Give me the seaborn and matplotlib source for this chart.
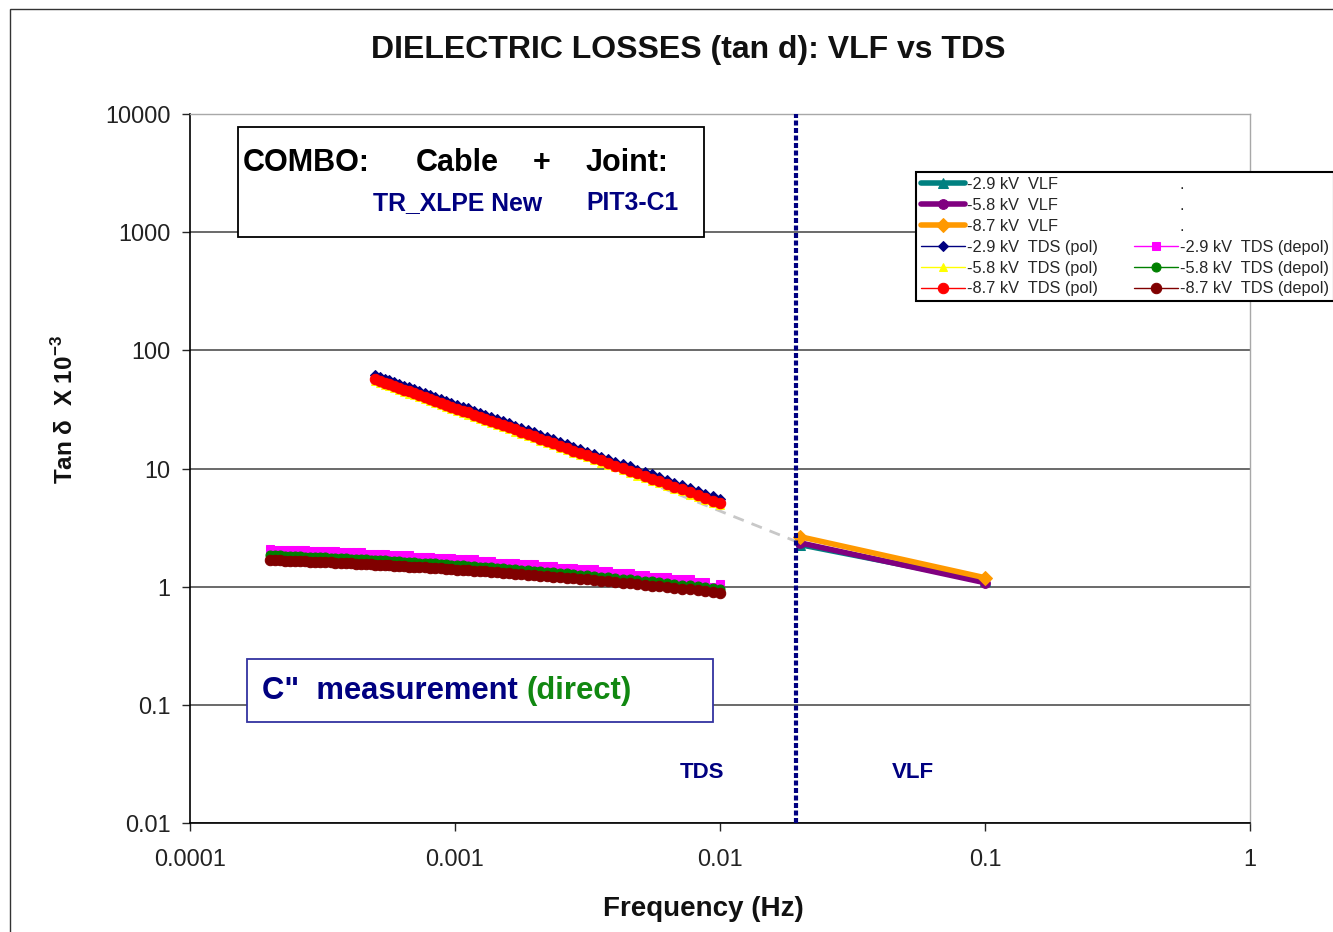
import matplotlib
matplotlib.use('Agg')
import matplotlib.pyplot as plt
import seaborn as sns
from matplotlib.lines import Line2D
from matplotlib.patches import Rectangle
from matplotlib.ticker import NullLocator

# TDS polarisation curves (Hz, tan d x 1e-3)
pol_freq = [0.000500, 0.000521, 0.000543, 0.000566, 0.000590, 0.000616, 0.000643, 0.000672,
            0.000702, 0.000734, 0.000768, 0.000804, 0.000842, 0.000882, 0.000925, 0.000970,
            0.00102, 0.00107, 0.00112, 0.00118, 0.00124, 0.00130, 0.00137, 0.00144,
            0.00152, 0.00160, 0.00169, 0.00178, 0.00188, 0.00199, 0.00210, 0.00222,
            0.00235, 0.00249, 0.00264, 0.00280, 0.00297, 0.00315, 0.00335, 0.00356,
            0.00379, 0.00403, 0.00429, 0.00457, 0.00487, 0.00519, 0.00553, 0.00590,
            0.00630, 0.00673, 0.00719, 0.00769, 0.00823, 0.00881, 0.00940, 0.01000]
pol_29 = [61.6, 59.6, 57.6, 55.7, 53.9, 52.1, 50.3, 48.5, 46.9, 45.1,
          43.5, 42.0, 40.5, 39.0, 37.5, 36.1, 34.7, 33.4, 32.2, 30.8,
          29.6, 28.5, 27.3, 26.2, 25.2, 24.1, 23.1, 22.1, 21.2, 20.2,
          19.3, 18.6, 17.7, 16.8, 16.1, 15.3, 14.7, 13.9, 13.3, 12.6,
          12.0, 11.4, 10.9, 10.4, 9.8, 9.3, 8.9, 8.4, 8.0, 7.6,
          7.2, 6.8, 6.4, 6.1, 5.8, 5.5]
pol_58 = [54.7, 53.0, 51.2, 49.5, 47.9, 46.3, 44.7, 43.1, 41.7, 40.1,
          38.7, 37.3, 36.0, 34.7, 33.3, 32.1, 30.8, 29.7, 28.6, 27.4,
          26.3, 25.3, 24.3, 23.3, 22.4, 21.4, 20.5, 19.7, 18.8, 18.0,
          17.2, 16.5, 15.7, 15.0, 14.3, 13.6, 13.1, 12.4, 11.8, 11.2,
          10.7, 10.2, 9.7, 9.2, 8.7, 8.3, 7.9, 7.5, 7.1, 6.7,
          6.4, 6.0, 5.7, 5.4, 5.1, 4.9]
pol_87 = [57.0, 55.2, 53.3, 51.6, 49.9, 48.2, 46.6, 44.9, 43.4, 41.8,
          40.3, 38.9, 37.5, 36.1, 34.7, 33.4, 32.1, 30.9, 29.8, 28.5,
          27.4, 26.4, 25.3, 24.3, 23.3, 22.3, 21.4, 20.5, 19.6, 18.7,
          17.9, 17.2, 16.4, 15.6, 14.9, 14.2, 13.6, 12.9, 12.3, 11.7,
          11.1, 10.6, 10.1, 9.6, 9.1, 8.65, 8.22, 7.80, 7.40, 7.02,
          6.65, 6.30, 5.96, 5.65, 5.36, 5.10]

# TDS depolarisation curves
depol_freq_early = [0.000200, 0.000209, 0.000218, 0.000228, 0.000238, 0.000249, 0.000260,
                    0.000272, 0.000284, 0.000297, 0.000310, 0.000324, 0.000339, 0.000354,
                    0.000370, 0.000387, 0.000405, 0.000423, 0.000442, 0.000462, 0.000483]
depol_freq = depol_freq_early + pol_freq
depol_29 = [2.10, 2.05, 2.05, 2.05, 2.05, 2.05, 2.05, 2.05, 2.00, 2.00,
            2.00, 2.00, 2.00, 2.00, 1.95, 1.95, 1.95, 1.95, 1.95, 1.90,
            1.90, 1.90, 1.90, 1.90, 1.85, 1.85, 1.85, 1.85, 1.85, 1.80,
            1.80, 1.80, 1.80, 1.75, 1.75, 1.75, 1.75, 1.70, 1.70, 1.70,
            1.70, 1.65, 1.65, 1.65, 1.60, 1.60, 1.60, 1.60, 1.55, 1.55,
            1.55, 1.50, 1.50, 1.50, 1.45, 1.45, 1.45, 1.40, 1.40, 1.40,
            1.35, 1.35, 1.30, 1.30, 1.30, 1.25, 1.25, 1.20, 1.20, 1.20,
            1.15, 1.15, 1.15, 1.10, 1.10, 1.00, 1.05]
depol_58 = [1.850, 1.844, 1.836, 1.829, 1.822, 1.814, 1.807, 1.800, 1.792, 1.784,
            1.777, 1.769, 1.761, 1.753, 1.743, 1.735, 1.726, 1.718, 1.709, 1.700,
            1.692, 1.684, 1.675, 1.667, 1.658, 1.649, 1.640, 1.631, 1.621, 1.612,
            1.601, 1.591, 1.581, 1.571, 1.560, 1.549, 1.537, 1.526, 1.515, 1.503,
            1.491, 1.480, 1.468, 1.456, 1.444, 1.430, 1.418, 1.405, 1.392, 1.377,
            1.364, 1.350, 1.337, 1.323, 1.308, 1.293, 1.278, 1.263, 1.249, 1.233,
            1.217, 1.202, 1.186, 1.170, 1.154, 1.139, 1.122, 1.107, 1.090, 1.073,
            1.057, 1.041, 1.025, 1.007, 0.990, 0.975, 0.959]
depol_87 = [1.679, 1.673, 1.667, 1.661, 1.655, 1.649, 1.642, 1.636, 1.629, 1.622,
            1.616, 1.609, 1.602, 1.595, 1.587, 1.580, 1.572, 1.565, 1.557, 1.549,
            1.542, 1.535, 1.528, 1.521, 1.513, 1.505, 1.497, 1.489, 1.480, 1.472,
            1.463, 1.454, 1.445, 1.436, 1.427, 1.417, 1.407, 1.397, 1.387, 1.377,
            1.366, 1.356, 1.346, 1.335, 1.324, 1.312, 1.301, 1.289, 1.278, 1.265,
            1.253, 1.241, 1.229, 1.216, 1.203, 1.190, 1.176, 1.163, 1.150, 1.136,
            1.122, 1.108, 1.094, 1.079, 1.065, 1.051, 1.036, 1.022, 1.007, 0.992,
            0.977, 0.963, 0.948, 0.932, 0.917, 0.903, 0.889]

# VLF points
vlf_freq = [0.02, 0.1]
vlf_29 = [2.27, 1.12]
vlf_58 = [2.35, 1.08]
vlf_87 = [2.65, 1.19]

# grey dashed link between TDS and VLF
trend_freq = [0.006, 0.0195]
trend_vals = [6.9, 2.4]

divider_freq = 0.0194

x_ticks = [0.0001, 0.001, 0.01, 0.1, 1]
x_tick_labels = ['0.0001', '0.001', '0.01', '0.1', '1']
y_ticks = [0.01, 0.1, 1, 10, 100, 1000, 10000]
y_tick_labels = ['0.01', '0.1', '1', '10', '100', '1000', '10000']

sns.set_style('white')
plt.rcParams['font.family'] = ['Liberation Sans', 'DejaVu Sans']
plt.rcParams['mathtext.fontset'] = 'custom'
plt.rcParams['mathtext.rm'] = 'Liberation Sans'
plt.rcParams['mathtext.bf'] = 'Liberation Sans:bold'

W, H = 1333, 932
fig = plt.figure(figsize=(W / 100, H / 100), dpi=100)
ax = fig.add_axes([190 / W, 1 - 823 / H, (1250 - 190) / W, (823 - 114) / H])


def fxy(x, y):
    return x / W, 1 - y / H


def line(x, y, label, color, marker, ms, lw, z):
    sns.lineplot(x=x, y=y, ax=ax, color=color, marker=marker, markersize=ms,
                 markeredgecolor=color, linewidth=lw, label=label,
                 estimator=None, sort=False, zorder=z)


ax.plot(trend_freq, trend_vals, color='#c8c8c8', lw=2, dashes=(4, 3), zorder=2)

line(vlf_freq, vlf_29, '-2.9 kV  VLF', '#008080', '^', 7, 4, 3)
line(vlf_freq, vlf_58, '-5.8 kV  VLF', '#800080', 'o', 7, 4, 3.1)
line(vlf_freq, vlf_87, '-8.7 kV  VLF', '#ff9900', 'D', 7, 4, 3.2)
line(pol_freq, pol_29, '-2.9 kV  TDS (pol)', '#000080', 'D', 5, 1, 4)
line(pol_freq, pol_58, '-5.8 kV  TDS (pol)', '#ffff00', '^', 6, 1, 4.1)
line(pol_freq, pol_87, '-8.7 kV  TDS (pol)', '#ff0000', 'o', 7.5, 1, 4.2)
line(depol_freq, depol_29, '-2.9 kV  TDS (depol)', '#ff00ff', 's', 6, 1, 4)
line(depol_freq, depol_58, '-5.8 kV  TDS (depol)', '#008000', 'o', 6.5, 1, 4.1)
line(depol_freq, depol_87, '-8.7 kV  TDS (depol)', '#800000', 'o', 7.5, 1, 4.2)

ax.axvline(divider_freq, color='#000080', lw=3, linestyle=(0, (1.2, 0.6)),
           dash_capstyle='butt', zorder=5)

ax.set_xscale('log')
ax.set_yscale('log')
ax.set_xlim(1e-4, 1)
ax.set_ylim(1e-2, 1e4)
ax.set_xticks(x_ticks, x_tick_labels)
ax.set_yticks(y_ticks, y_tick_labels)
ax.xaxis.set_minor_locator(NullLocator())
ax.yaxis.set_minor_locator(NullLocator())
ax.tick_params(axis='both', which='major', direction='out', length=6, width=1,
               labelsize=16.8, labelcolor='#222222', bottom=True, left=True)
ax.tick_params(axis='x', pad=12)
ax.tick_params(axis='y', pad=8)
ax.set_xlabel('')
ax.set_ylabel('')

ax.set_axisbelow(True)
ax.yaxis.grid(True, color='#505050', lw=1.2)
ax.xaxis.grid(False)
ax.yaxis.get_gridlines()[-1].set_visible(False)
for side in ['left', 'bottom']:
    ax.spines[side].set_color('black')
    ax.spines[side].set_linewidth(1.2)
for side in ['top', 'right']:
    ax.spines[side].set_color('#a8a8a8')
    ax.spines[side].set_linewidth(1)

# legend, two columns with placeholder entries like the original
handles, labels = ax.get_legend_handles_labels()
by_label = dict(zip(labels, handles))
dummy = Line2D([], [], color='none', label='.')
order = ['-2.9 kV  VLF', '-5.8 kV  VLF', '-8.7 kV  VLF',
         '-2.9 kV  TDS (pol)', '-5.8 kV  TDS (pol)', '-8.7 kV  TDS (pol)']
order2 = ['-2.9 kV  TDS (depol)', '-5.8 kV  TDS (depol)', '-8.7 kV  TDS (depol)']
leg_handles = [by_label[k] for k in order] + [dummy] * 3 + [by_label[k] for k in order2]
leg_labels = order + ['.'] * 3 + order2
leg = ax.legend(leg_handles, leg_labels, ncol=2, loc='upper left',
                bbox_to_anchor=fxy(916, 172), bbox_transform=fig.transFigure,
                borderaxespad=0, fontsize=11.8, frameon=True, fancybox=False,
                framealpha=1, edgecolor='black', handlelength=2.7,
                handletextpad=0.1, columnspacing=2.2, labelspacing=0.36,
                borderpad=0.3)
leg.get_frame().set_linewidth(1.5)

# text boxes
fig.patches.append(Rectangle(fxy(238, 237), (704 - 238) / W, (237 - 127) / H,
                             transform=fig.transFigure, facecolor='white',
                             edgecolor='black', lw=1.3, zorder=5))
fig.patches.append(Rectangle(fxy(247, 722), (713 - 247) / W, (722 - 659) / H,
                             transform=fig.transFigure, facecolor='white',
                             edgecolor='#3333a0', lw=1.3, zorder=5))
fig.patches.append(Rectangle((10 / W, -0.1), 1.2, 1.1 - 9 / H,
                             transform=fig.transFigure, fill=False,
                             edgecolor='#333333', lw=1, zorder=6))

for word, x in [('COMBO:', 243), ('Cable', 416), ('+', 533), ('Joint:', 586)]:
    fig.text(*fxy(x, 163), word, fontsize=22, fontweight='bold', color='black',
             ha='left', va='center', zorder=7)
for word, x in [('TR_XLPE New', 373), ('PIT3-C1', 586)]:
    fig.text(*fxy(x, 203), word, fontsize=17.8, fontweight='bold', color='#000080',
             ha='left', va='center', zorder=7)

t1 = fig.text(*fxy(262, 691), 'C"  measurement ', fontsize=22.3, fontweight='bold',
              color='#000080', ha='left', va='center', zorder=7)
fig.canvas.draw()
bb = t1.get_window_extent()
fig.text(bb.x1 / W, 1 - 691 / H, '(direct)', fontsize=22.3, fontweight='bold',
         color='#118811', ha='left', va='center', zorder=7)

fig.text(*fxy(702, 772), 'TDS', fontsize=16, fontweight='bold', color='#000080',
         ha='center', va='center')
fig.text(*fxy(913, 772), 'VLF', fontsize=16, fontweight='bold', color='#000080',
         ha='center', va='center')

fig.text(*fxy(688, 50), 'DIELECTRIC LOSSES (tan d): VLF vs TDS', fontsize=23,
         fontweight='bold', ha='center', va='center', color='#111111')
fig.text(*fxy(703, 909), 'Frequency (Hz)', fontsize=20, fontweight='bold',
         ha='center', va='center', color='#111111')
fig.text(*fxy(65, 410), 'Tan δ  X 10$^{\\mathbf{-3}}$', fontsize=17.5,
         fontweight='bold', rotation=90, ha='center', va='center', color='#111111')

fig.savefig('out.png', dpi=100)
